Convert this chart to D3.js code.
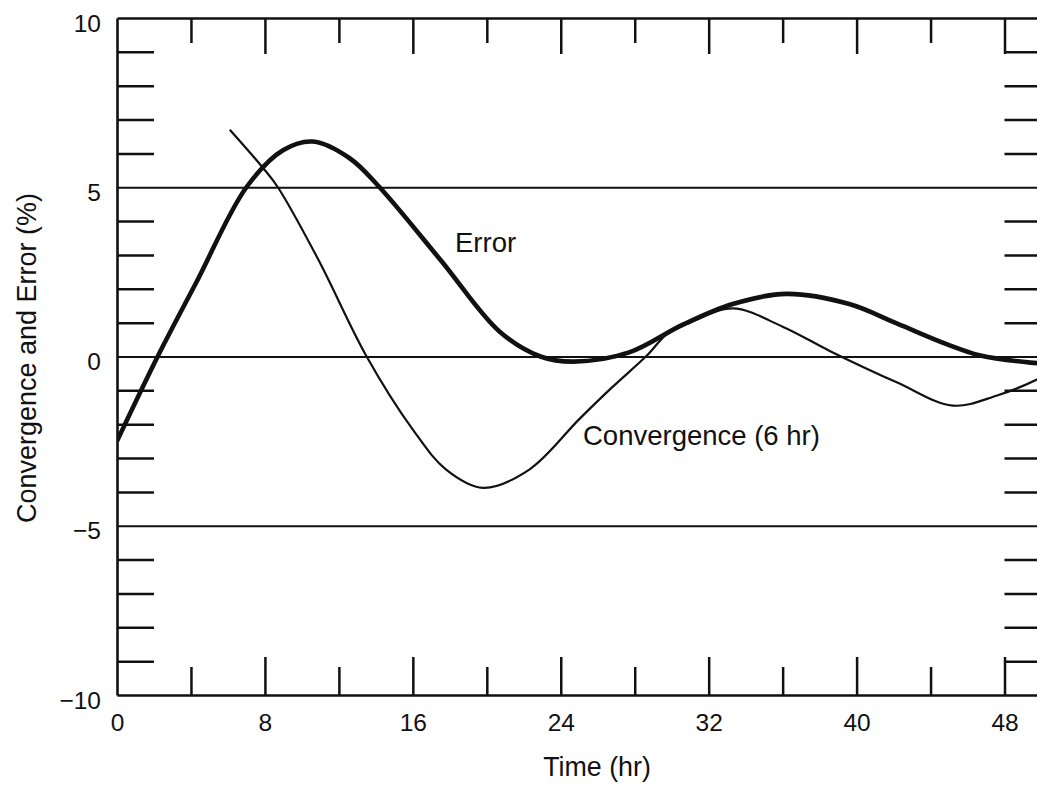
<!DOCTYPE html>
<html>
<head>
<meta charset="utf-8">
<script src="https://cdn.jsdelivr.net/npm/d3@7"></script>
<style>
body { margin: 0; background: #fff; }
svg { display: block; font-family: "Liberation Sans", Arial, Helvetica, sans-serif; }
</style>
</head>
<body>
<div id="chart"></div>
<script>
// datos
const errorTime = [0, 2.2, 4.3, 7.0, 9.0, 10.6, 12.6, 14.2, 17.5, 20.7, 22.9, 24.7, 27.7, 30.6, 33.3, 36.2, 39.6, 42.2, 44.9, 46.7, 49.4, 50]
const errorValue = [-2.5, 0, 2.2, 5.0, 6.1, 6.35, 5.85, 5.0, 2.85, 0.73, 0, -0.15, 0.12, 0.94, 1.55, 1.85, 1.55, 0.97, 0.36, 0.03, -0.18, -0.2]

const convTime = [6.1, 7.9, 8.7, 10.9, 13.5, 16.0, 17.8, 19.8, 22.3, 25.0, 26.7, 28.7, 29.7, 31.0, 33.3, 36.0, 38.6, 42.2, 45.2, 47.6, 49.75, 50]
const convValue = [6.7, 5.57, 5.0, 2.85, 0, -2.16, -3.34, -3.88, -3.34, -1.85, -0.95, 0.05, 0.64, 1.0, 1.42, 0.88, 0.15, -0.77, -1.45, -1.15, -0.68, -0.6]

const xMajorTicks = [0, 8, 16, 24, 32, 40, 48]
const xMinorTicks = [4, 12, 20, 28, 36, 44]
const yLabelTicks = [-10, -5, 0, 5, 10]
const yGridTicks = [-5, 0, 5]
const yMinorTicks = [-9, -8, -7, -6, -4, -3, -2, -1, 1, 2, 3, 4, 6, 7, 8, 9]

// constantes
const width = 1037
const height = 785
const ink = "#111"

const svg = d3.select("#chart").append("svg").attr("width", width).attr("height", height)

// escalas
const x = d3.scaleLinear().domain([0, 50]).range([117, 1041.5])
const y = d3.scaleLinear().domain([-10, 10]).range([695, 18])
const plotW = x.range()[1] - x.range()[0]

function styleAxis(g, size) {
    g.attr("font-family", null).attr("font-size", size)
    g.selectAll("line").attr("stroke", ink).attr("stroke-width", 2.5)
    g.selectAll("path").attr("stroke", ink).attr("stroke-width", 2.6)
    g.selectAll("text").attr("fill", ink)
}

// lineas de referencia (5, 0, -5)
const gridGroup = svg.append("g").attr("transform", `translate(${x(0)},0)`)
gridGroup.call(d3.axisLeft(y).tickValues(yGridTicks).tickSize(-plotW).tickFormat(""))
gridGroup.select(".domain").remove()
gridGroup.selectAll("line").attr("stroke", ink).attr("stroke-width", 2)

// eje izquierdo: marcas y etiquetas
const leftTicks = svg.append("g").attr("transform", `translate(${x(0)},0)`)
    .call(d3.axisLeft(y).tickValues(yMinorTicks).tickSize(-37).tickSizeOuter(0).tickFormat(""))
styleAxis(leftTicks, 24.5)

const leftLabels = svg.append("g").attr("transform", `translate(${x(0)},0)`)
    .call(d3.axisLeft(y).tickValues(yLabelTicks).tickSize(0).tickPadding(16))
leftLabels.select(".domain").remove()
styleAxis(leftLabels, 24.5)
leftLabels.selectAll("text").attr("dy", "0.53em")

// eje derecho (queda fuera del borde, como en la figura)
const rightTicks = svg.append("g").attr("transform", `translate(${x(50)},0)`)
    .call(d3.axisRight(y).tickValues(yMinorTicks).tickSize(-37).tickSizeOuter(0).tickFormat(""))
styleAxis(rightTicks, 24.5)

// eje superior
const topMajor = svg.append("g").attr("transform", `translate(0,${y(10)})`)
    .call(d3.axisTop(x).tickValues(xMajorTicks.filter(d => d > 0)).tickSize(-36).tickSizeOuter(0).tickFormat(""))
styleAxis(topMajor, 24.5)
const topMinor = svg.append("g").attr("transform", `translate(0,${y(10)})`)
    .call(d3.axisTop(x).tickValues(xMinorTicks).tickSize(-25).tickSizeOuter(0).tickFormat(""))
topMinor.select(".domain").remove()
styleAxis(topMinor, 24.5)

// eje inferior
const bottomMajor = svg.append("g").attr("transform", `translate(0,${y(-10)})`)
    .call(d3.axisBottom(x).tickValues(xMajorTicks).tickSize(-38).tickSizeOuter(0).tickPadding(19))
styleAxis(bottomMajor, 24.5)
bottomMajor.selectAll(".tick").filter(d => d === 0).select("line").remove()
const bottomMinor = svg.append("g").attr("transform", `translate(0,${y(-10)})`)
    .call(d3.axisBottom(x).tickValues(xMinorTicks).tickSize(-28).tickSizeOuter(0).tickFormat(""))
bottomMinor.select(".domain").remove()
styleAxis(bottomMinor, 24.5)

// curvas
svg.append("clipPath").attr("id", "plotClip").append("rect")
    .attr("x", x(0)).attr("y", y(10)).attr("width", plotW).attr("height", y(-10) - y(10))

const line = d3.line().x(d => x(d[0])).y(d => y(d[1])).curve(d3.curveCatmullRom.alpha(0.5))

const curves = svg.append("g").attr("clip-path", "url(#plotClip)")
curves.append("path")
    .datum(convTime.map((t, i) => [t, convValue[i]]))
    .attr("d", line)
    .attr("fill", "none").attr("stroke", ink).attr("stroke-width", 2.2)
curves.append("path")
    .datum(errorTime.map((t, i) => [t, errorValue[i]]))
    .attr("d", line)
    .attr("fill", "none").attr("stroke", ink).attr("stroke-width", 4.6).attr("stroke-linejoin", "round")

// textos
svg.append("text").attr("x", 455).attr("y", 252).attr("font-size", 27.5).attr("fill", ink).text("Error")
svg.append("text").attr("x", 583).attr("y", 445).attr("font-size", 27.5).attr("fill", ink).text("Convergence (6 hr)")

svg.append("text").attr("x", 597).attr("y", 776).attr("text-anchor", "middle")
    .attr("font-size", 26.8).attr("fill", ink).text("Time (hr)")
svg.append("text").attr("transform", "translate(36,358) rotate(-90)").attr("text-anchor", "middle")
    .attr("font-size", 27).attr("fill", ink).text("Convergence and Error (%)")
</script>
</body>
</html>
